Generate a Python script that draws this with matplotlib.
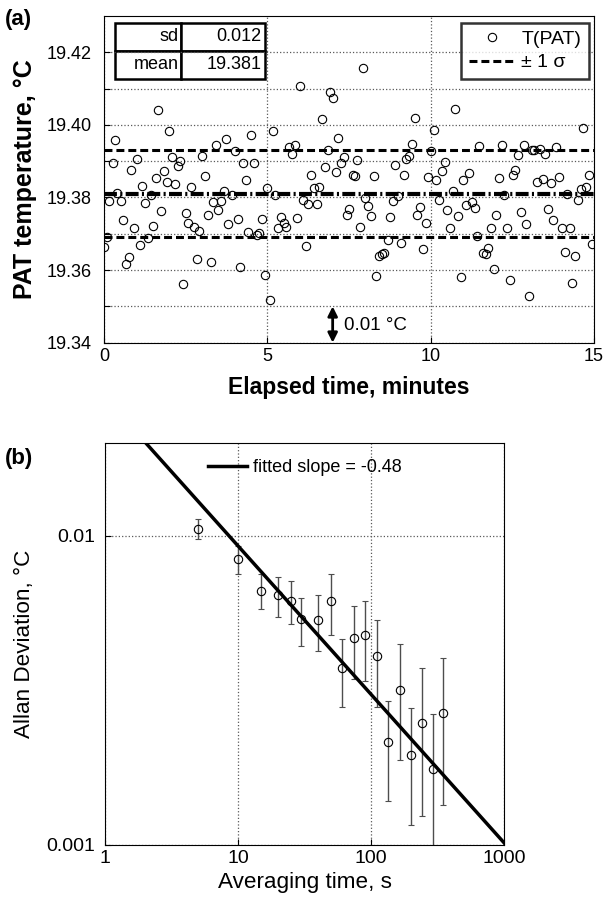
import numpy as np
import matplotlib
matplotlib.use("Agg")
import matplotlib.pyplot as plt

plt.rcParams['font.family'] = ['Liberation Sans', 'DejaVu Sans']

# (a) PAT temperature record
minutes = [0.00, 0.08, 0.16, 0.27, 0.34, 0.41, 0.51, 0.57, 0.67, 0.77, 0.84, 0.92,
           1.01, 1.09, 1.17, 1.26, 1.36, 1.43, 1.50, 1.58, 1.66, 1.74, 1.84, 1.93,
           2.00, 2.08, 2.18, 2.26, 2.34, 2.43, 2.51, 2.58, 2.66, 2.74, 2.84, 2.92,
           3.01, 3.08, 3.17, 3.27, 3.35, 3.43, 3.50, 3.59, 3.67, 3.73, 3.80, 3.93,
           4.01, 4.09, 4.17, 4.27, 4.34, 4.42, 4.50, 4.59, 4.68, 4.76, 4.85, 4.92,
           5.00, 5.08, 5.16, 5.25, 5.34, 5.42, 5.50, 5.58, 5.67, 5.74, 5.85, 5.92,
           6.00, 6.08, 6.17, 6.26, 6.34, 6.42, 6.51, 6.59, 6.68, 6.76, 6.86, 6.92,
           7.01, 7.10, 7.17, 7.27, 7.35, 7.44, 7.51, 7.61, 7.69, 7.76, 7.84, 7.92,
           8.00, 8.09, 8.16, 8.26, 8.34, 8.42, 8.50, 8.58, 8.68, 8.76, 8.84, 8.92,
           9.01, 9.09, 9.17, 9.24, 9.33, 9.42, 9.51, 9.58, 9.66, 9.76, 9.86, 9.93,
           10.00, 10.09, 10.17, 10.26, 10.34, 10.43, 10.51, 10.59, 10.67, 10.75, 10.84, 10.92,
           11.00, 11.09, 11.17, 11.27, 11.35, 11.41, 11.48, 11.60, 11.68, 11.76, 11.85, 11.93,
           12.01, 12.09, 12.17, 12.26, 12.35, 12.43, 12.51, 12.59, 12.67, 12.76, 12.85, 12.93,
           13.00, 13.09, 13.17, 13.25, 13.34, 13.43, 13.51, 13.60, 13.68, 13.76, 13.85, 13.93,
           14.02, 14.10, 14.18, 14.27, 14.34, 14.43, 14.52, 14.60, 14.67, 14.76, 14.85, 14.93]
temps = [19.3664, 19.3691, 19.3790, 19.3895, 19.3959, 19.3813, 19.3790, 19.3738, 19.3618, 19.3637, 19.3877, 19.3716,
         19.3906, 19.3668, 19.3833, 19.3785, 19.3688, 19.3806, 19.3721, 19.3855, 19.4040, 19.3762, 19.3872, 19.3842,
         19.3982, 19.3911, 19.3836, 19.3888, 19.3900, 19.3562, 19.3758, 19.3729, 19.3830, 19.3719, 19.3631, 19.3709,
         19.3915, 19.3858, 19.3751, 19.3623, 19.3787, 19.3945, 19.3766, 19.3790, 19.3817, 19.3961, 19.3726, 19.3806,
         19.3927, 19.3740, 19.3609, 19.3894, 19.3848, 19.3705, 19.3971, 19.3895, 19.3698, 19.3703, 19.3740, 19.3586,
         19.3827, 19.3517, 19.3984, 19.3808, 19.3717, 19.3745, 19.3730, 19.3720, 19.3939, 19.3920, 19.3946, 19.3744,
         19.4106, 19.3793, 19.3666, 19.3783, 19.3861, 19.3827, 19.3783, 19.3830, 19.4015, 19.3885, 19.3932, 19.4091,
         19.4074, 19.3870, 19.3963, 19.3895, 19.3911, 19.3753, 19.3769, 19.3861, 19.3860, 19.3902, 19.3719, 19.4157,
         19.3799, 19.3776, 19.3748, 19.3859, 19.3583, 19.3638, 19.3643, 19.3646, 19.3683, 19.3746, 19.3790, 19.3890,
         19.3805, 19.3674, 19.3862, 19.3907, 19.3915, 19.3948, 19.4019, 19.3753, 19.3773, 19.3657, 19.3730, 19.3857,
         19.3927, 19.3985, 19.3848, 19.3794, 19.3874, 19.3898, 19.3765, 19.3715, 19.3817, 19.4045, 19.3750, 19.3580,
         19.3848, 19.3779, 19.3868, 19.3787, 19.3771, 19.3695, 19.3941, 19.3648, 19.3643, 19.3660, 19.3717, 19.3602,
         19.3752, 19.3854, 19.3944, 19.3808, 19.3717, 19.3574, 19.3861, 19.3875, 19.3916, 19.3760, 19.3946, 19.3728,
         19.3528, 19.3930, 19.3932, 19.3843, 19.3934, 19.3852, 19.3920, 19.3768, 19.3841, 19.3738, 19.3939, 19.3856,
         19.3717, 19.3650, 19.3810, 19.3717, 19.3565, 19.3640, 19.3792, 19.3824, 19.3992, 19.3828, 19.3863, 19.3672]
mean_T = 19.381
sd_T = 0.012

# (b) Allan deviation
tau = [5, 10, 15, 20, 25, 30, 40, 50, 60, 75, 90, 110, 135, 165, 200, 240, 290, 350]
adev = [0.0105, 0.00839, 0.00664, 0.00643, 0.00615, 0.00536, 0.00533, 0.00614, 0.00373,
        0.00467, 0.00477, 0.00407, 0.00215, 0.00318, 0.00196, 0.00248, 0.00176, 0.00268]
adev_hi = [0.01133, 0.00927, 0.0075, 0.00737, 0.00714, 0.0063, 0.00643, 0.0075, 0.00464,
           0.00594, 0.00616, 0.00535, 0.00292, 0.00448, 0.00277, 0.00373, 0.00266, 0.00403]
adev_lo = [0.00973, 0.00752, 0.00578, 0.00547, 0.00518, 0.0044, 0.00425, 0.00477, 0.00279,
           0.00343, 0.0034, 0.00279, 0.00139, 0.00188, 0.00116, 0.00124, 0.0008, 0.00135]
fit_slope = -0.48
fit_amp = 0.0280

fig = plt.figure(figsize=(6.05, 9.01), dpi=100)

# ---------- panel (a) ----------
ax1 = fig.add_axes([0.1719, 0.6197, 0.8099, 0.3625])
ax1.plot(minutes, temps, 'o', mfc='none', mec='black', ms=6, mew=0.8, label='T(PAT)')
ax1.axhline(mean_T, color='black', lw=3, dashes=(3.1, 0.8, 0.5, 0.8))
ax1.axhline(mean_T + sd_T, color='black', lw=2.2, ls=(0, (2.6, 1.3)), label='± 1 σ')
ax1.axhline(mean_T - sd_T, color='black', lw=2.2, ls=(0, (2.6, 1.3)))

ax1.set_xlim(0, 15)
ax1.set_ylim(19.34, 19.43)
ax1.set_xticks([0, 5, 10, 15])
yt = np.round(np.arange(19.34, 19.425, 0.01), 2)
ax1.set_yticks(yt)
ax1.set_yticklabels([f"{v:.2f}" if i % 2 == 0 else "" for i, v in enumerate(yt)])
ax1.tick_params(direction='in', labelsize=13, length=4)
ax1.tick_params(axis='y', pad=9)
ax1.grid(True, ls=':', color='0.35', lw=0.9)
ax1.set_xlabel("Elapsed time, minutes", fontsize=16.5, fontweight='bold', labelpad=8)
ax1.set_ylabel("PAT temperature, °C", fontsize=18, fontweight='bold', labelpad=7)

ax1.annotate('', xy=(7, 19.34), xytext=(7, 19.35),
             arrowprops=dict(arrowstyle='<|-|>', color='black', lw=2,
                             mutation_scale=14, shrinkA=0, shrinkB=0))
ax1.text(7.35, 19.3447, "0.01 °C", fontsize=13.5, va='center')

tbl = ax1.table(cellText=[["sd", f"{sd_T:.3f}"], ["mean", f"{mean_T:.3f}"]],
                cellLoc='right', bbox=[0.0224, 0.807, 0.3062, 0.1725],
                colWidths=[0.44, 0.56])
tbl.auto_set_font_size(False)
for cell in tbl.get_celld().values():
    cell.set_fontsize(13)
    cell.set_linewidth(1.8)
    cell.PAD = 0.04

leg1 = ax1.legend(loc='upper right', fontsize=14, frameon=True, fancybox=False,
                  edgecolor='black', handlelength=2.4, handletextpad=0.3,
                  borderpad=0.4, labelspacing=0.3, borderaxespad=0,
                  bbox_to_anchor=(0.99, 0.98))
leg1.get_frame().set_linewidth(1.8)

fig.text(0.008, 0.972, "(a)", fontsize=16, fontweight='bold')

# ---------- panel (b) ----------
ax2 = fig.add_axes([0.1736, 0.0622, 0.6595, 0.4465])
yerr = [np.array(adev) - np.array(adev_lo), np.array(adev_hi) - np.array(adev)]
ax2.errorbar(tau, adev, yerr=yerr, fmt='o', mfc='none', mec='black', ms=6, mew=0.8,
             ecolor='0.3', elinewidth=1.0, capsize=2, capthick=1.0)
xfit = np.array([1, 1000])
ax2.plot(xfit, fit_amp * xfit ** fit_slope, color='black', lw=2.5,
         label=f"fitted slope = {fit_slope}")
ax2.set_xscale('log')
ax2.set_yscale('log')
ax2.set_xlim(1, 1000)
ax2.set_ylim(0.001, 0.02)
ax2.set_xticks([1, 10, 100, 1000])
ax2.set_xticklabels(["1", "10", "100", "1000"])
ax2.set_yticks([0.001, 0.01])
ax2.set_yticklabels(["0.001", "0.01"])
ax2.minorticks_off()
ax2.tick_params(direction='in', labelsize=14, length=4)
ax2.tick_params(axis='y', pad=7)
ax2.grid(True, ls=':', color='0.35', lw=0.9)
ax2.set_xlabel("Averaging time, s", fontsize=16.2)
ax2.set_ylabel("Allan Deviation, °C", fontsize=16.2, labelpad=8)
ax2.legend(loc='upper center', fontsize=13, frameon=False, handlelength=2.2,
           handletextpad=0.3, bbox_to_anchor=(0.5, 1.0))

fig.text(0.008, 0.485, "(b)", fontsize=16, fontweight='bold')

fig.savefig("out.png", dpi=100)
